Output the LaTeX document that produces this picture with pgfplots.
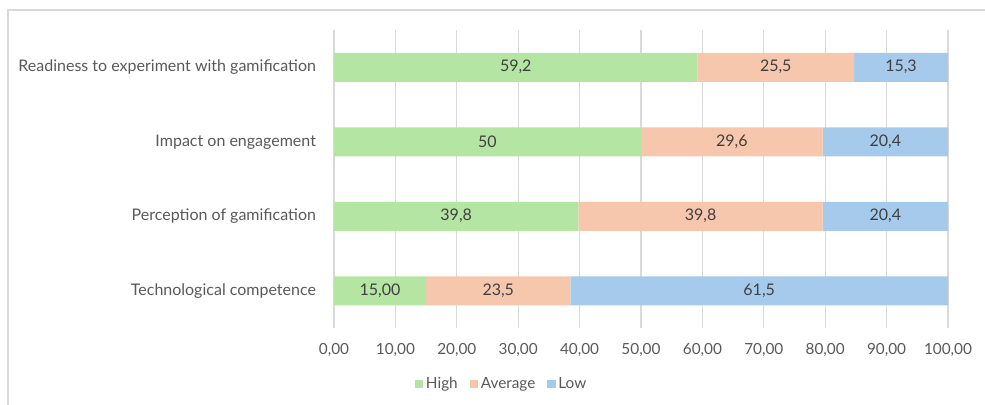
\documentclass[border=0pt]{standalone}
\usepackage{pgfplots}
\pgfplotsset{compat=1.18}
\usepackage{pgfplotstable}
\usepackage{fontspec}
\setmainfont{Lato}
\definecolor{cHigh}{HTML}{B4E5A2}
\definecolor{cAvg}{HTML}{F6C6AD}
\definecolor{cLow}{HTML}{A6CAEC}
\definecolor{txt}{HTML}{595959}
\definecolor{lbl}{HTML}{404040}
\definecolor{grid}{HTML}{D9D9D9}
\pgfplotstableread{
y high avg low lh la ll
0 15.0 23.5 61.5 15,00 23,5 61,5
1 39.8 39.8 20.4 39,8 39,8 20,4
2 50.0 29.6 20.4 50 29,6 20,4
3 59.2 25.5 15.3 59,2 25,5 15,3
}\data
\begin{document}
\begin{tikzpicture}
\begin{axis}[
  scale only axis,
  width=460.5pt, height=223.5pt,
  xbar stacked,
  bar width=21.75pt,
  xmin=0, xmax=100,
  ymin=-0.5, ymax=3.5,
  xtick={0,10,...,100},
  xticklabels={{0,00},{10,00},{20,00},{30,00},{40,00},{50,00},{60,00},{70,00},{80,00},{90,00},{100,00}},
  ytick={0,1,2,3},
  yticklabels={Technological competence,Perception of gamification,Impact on engagement,Readiness to experiment with gamification},
  xmajorgrids, major grid style={draw=grid, line width=0.8pt},
  major tick length=0pt,
  axis x line*=bottom, x axis line style={draw=none},
  axis y line*=left, y axis line style={draw=grid, line width=0.8pt},
  xticklabel style={font=\fontsize{11.5}{13}\selectfont, text=txt, yshift=-8pt},
  yticklabel style={font=\fontsize{12}{14}\selectfont, text=txt, xshift=-10pt},
  every axis plot/.append style={draw=none},
  nodes near coords,
  point meta=explicit symbolic,
  every node near coord/.append style={font=\fontsize{12}{14}\selectfont, text=lbl, anchor=center},
  legend style={at={(0.2736,-0.188)}, anchor=center, draw=none, legend columns=-1, font=\fontsize{11.5}{13}\selectfont, text=txt,
    /tikz/every even column/.append style={column sep=7pt}},
  legend image code/.code={\fill[#1] (0cm,-0.11cm) rectangle (0.22cm,0.11cm);},
]
\addplot+[fill=cHigh] table[x=high, y=y, meta=lh] {\data};
\addplot+[fill=cAvg] table[x=avg, y=y, meta=la] {\data};
\addplot+[fill=cLow] table[x=low, y=y, meta=ll] {\data};
\legend{High,Average,Low}
\end{axis}
\draw[grid, line width=0.8pt] (-244.5pt,-70pt) -- (-244.5pt,238.5pt) -- (500pt,238.5pt);
\pgfresetboundingbox
\path (-250.5pt,-57pt) rectangle (488.25pt,246pt);
\end{tikzpicture}
\end{document}
